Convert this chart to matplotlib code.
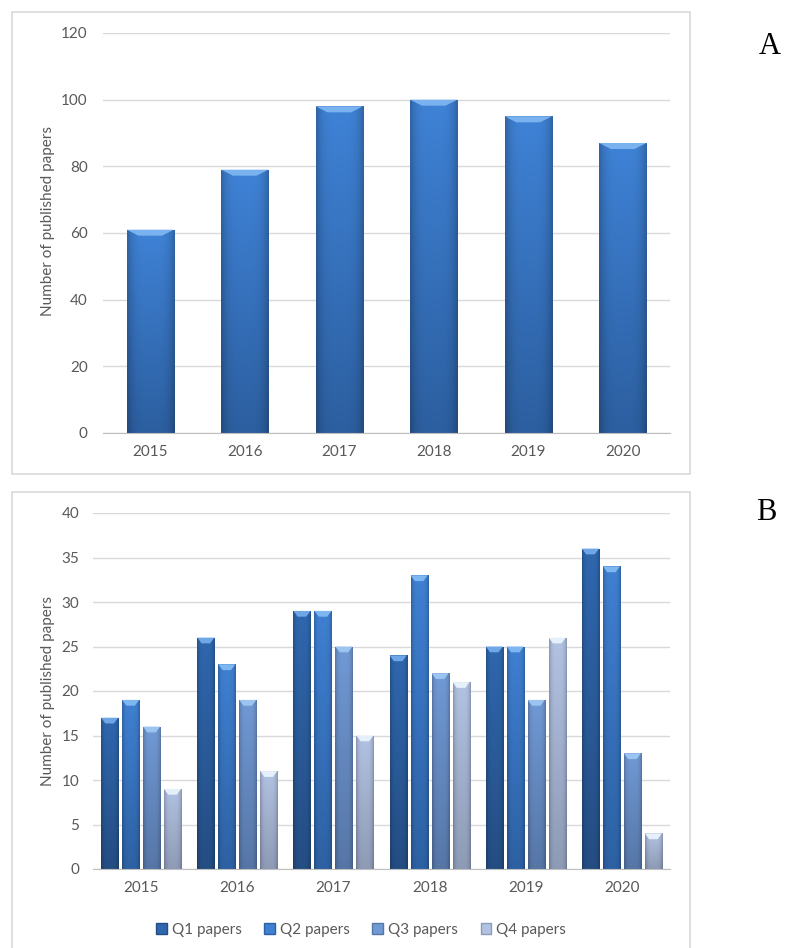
import numpy as np
import matplotlib
matplotlib.use('Agg')
import matplotlib.pyplot as plt
from matplotlib.patches import Rectangle, Polygon
from matplotlib.colors import to_rgb

years = ['2015', '2016', '2017', '2018', '2019', '2020']
total_papers = [61, 79, 98, 100, 95, 87]

quartiles = ['Q1 papers', 'Q2 papers', 'Q3 papers', 'Q4 papers']
q1 = [17, 26, 29, 24, 25, 36]
q2 = [19, 23, 29, 33, 25, 34]
q3 = [16, 19, 25, 22, 19, 13]
q4 = [9, 11, 15, 21, 26, 4]

plt.rcParams['font.family'] = ['Lato', 'DejaVu Sans']
grey = '#595959'
grid_c = '#D9D9D9'


def shade(ax, bars, c_top, c_bot, c_cap, cap_h):
    # gradient fill + small bevelled cap on each bar
    top = np.array(to_rgb(c_top))
    bot = np.array(to_rgb(c_bot))
    cap = to_rgb(c_cap)
    t = np.linspace(0, 1, 64)[:, None]
    s = np.linspace(-1, 1, 32)[None, :]
    edge = 1 - 0.22 * np.abs(s) ** 4
    for b in bars:
        x, w, h = b.get_x(), b.get_width(), b.get_height()
        img = (top[None, None, :] * (1 - t[..., None]) + bot[None, None, :] * t[..., None])
        img = img * edge[..., None]
        im = ax.imshow(np.clip(img, 0, 1), extent=[x, x + w, 0, h], origin='upper',
                       aspect='auto', zorder=2, interpolation='bilinear')
        im.set_clip_path(b)
        ax.add_patch(Polygon([(x, h), (x + w, h), (x + w * 0.75, h - cap_h),
                              (x + w * 0.25, h - cap_h)], closed=True,
                             facecolor=cap, edgecolor='none', zorder=3))


def style(ax, ymax, step, pad_y):
    ax.set_ylim(0, ymax)
    ax.set_yticks(np.arange(0, ymax + 1, step))
    ax.yaxis.grid(True, color=grid_c, linewidth=1)
    ax.set_axisbelow(True)
    for sp in ['top', 'right', 'left']:
        ax.spines[sp].set_visible(False)
    ax.spines['bottom'].set_color('#BFBFBF')
    ax.tick_params(length=0, colors=grey, labelsize=11)
    ax.tick_params(axis='y', pad=pad_y)
    ax.tick_params(axis='x', pad=9)
    ax.set_ylabel('Number of published papers', color=grey, fontsize=11)


fig = plt.figure(figsize=(7.85, 9.48), dpi=100)
W, H = 785, 948

# frames around each panel
for y0, y1 in [(12, 474), (492, 960)]:
    fig.add_artist(Rectangle((12 / W, 1 - y1 / H), (690 - 12) / W, (y1 - y0) / H,
                             transform=fig.transFigure, fill=False,
                             edgecolor=grid_c, linewidth=1.2))

# Panel A
axA = fig.add_axes([103 / W, 1 - 433 / H, 567 / W, 400 / H])
x = np.arange(len(years))
barsA = axA.bar(x, total_papers, width=0.5, color='none', zorder=2)
shade(axA, barsA, '#3F82D6', '#2C5FA0', '#79B2EE', 1.8)
axA.set_xlim(-0.5, len(years) - 0.5)
axA.set_xticks(x)
axA.set_xticklabels(years)
style(axA, 120, 20, 11)
axA.yaxis.set_label_coords(-0.084, 0.53)

# Panel B
axB = fig.add_axes([93 / W, 1 - 869 / H, 577 / W, 356 / H])
series = [q1, q2, q3, q4]
cols = [('#2F67AE', '#244D82', '#6FA6E6'),
        ('#3F80D2', '#2D61A3', '#7DB6F0'),
        ('#7199D4', '#5676A6', '#9CC4F0'),
        ('#B2C2E2', '#8E9BB6', '#E6F0FA')]
w = 0.177
step = 0.218
handles = []
for i, (vals, c) in enumerate(zip(series, cols)):
    pos = x + (i - 1.5) * step
    bars = axB.bar(pos, vals, width=w, color='none', zorder=2)
    shade(axB, bars, c[0], c[1], c[2], 0.65)
    handles.append(Rectangle((0, 0), 1, 1, facecolor=c[0], edgecolor=c[1], linewidth=1))
axB.set_xlim(-0.5, len(years) - 0.5)
axB.set_xticks(x)
axB.set_xticklabels(years)
style(axB, 40, 5, 10)
axB.yaxis.set_label_coords(-0.066, 0.5)

fig.legend(handles, quartiles, loc='center', bbox_to_anchor=(361 / W, 1 - 930 / H),
           ncol=4, frameon=False, fontsize=11, labelcolor=grey,
           handlelength=0.7, handleheight=0.7, handletextpad=0.3, columnspacing=1.5)

fig.text(770 / W, 1 - 47 / H, 'A', family='Liberation Serif', fontsize=22,
         ha='center', va='center', color='black')
fig.text(766 / W, 1 - 512 / H, 'B', family='Liberation Serif', fontsize=22,
         ha='center', va='center', color='black')

fig.savefig('out.png', dpi=100)
